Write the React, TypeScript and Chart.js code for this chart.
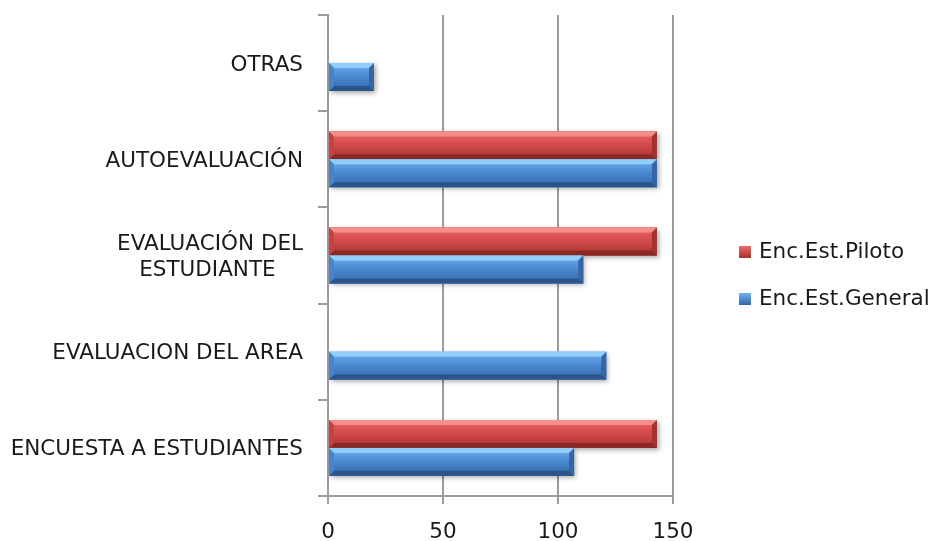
import React, { useEffect, useRef } from "react";
import { Chart, registerables } from "chart.js";

Chart.register(...registerables);

const categories: (string | string[])[] = [
  "OTRAS",
  "AUTOEVALUACIÓN",
  ["EVALUACIÓN DEL", "ESTUDIANTE"],
  "EVALUACION DEL AREA",
  "ENCUESTA A ESTUDIANTES",
];
const seriesNames = ["Enc.Est.Piloto", "Enc.Est.General"];
const pilotoValues = [0, 143, 143, 0, 143];
const generalValues = [20, 143, 111, 121, 107];
const xTickValues = [0, 50, 100, 150];

const FONT = "'DejaVu Sans', sans-serif";
const FONT_SIZE = 21.5;
const TEXT = "#1a1a1a";
const GRID = "#9c9c9c";

const palettes = [
  { base: "#C94543", topBevel: "#F58D8B", g0: "#EE6A68", g1: "#D44C4A", g2: "#A83331", bottomBevel: "#8A2826", leftBevel: "#C24341", rightBevel: "#A53230" },
  { base: "#4A88D0", topBevel: "#92CDFB", g0: "#70B3F2", g1: "#4C8AD2", g2: "#3266A8", bottomBevel: "#2A548A", leftBevel: "#4A84C8", rightBevel: "#3565A6" },
];

const bevelPlugin = {
  id: "bevel",
  beforeDatasetsDraw(chart: any) {
    const ctx = chart.ctx;
    chart.data.datasets.forEach((_: any, di: number) => {
      const meta = chart.getDatasetMeta(di);
      meta.data.forEach((el: any) => {
        const p = el.getProps(["x", "y", "base", "height"], true);
        const l = Math.min(p.x, p.base), r = Math.max(p.x, p.base);
        if (r - l < 1) return;
        ctx.save();
        ctx.shadowColor = "rgba(0,0,0,0.35)";
        ctx.shadowBlur = 5;
        ctx.shadowOffsetX = 2;
        ctx.shadowOffsetY = 2;
        ctx.fillStyle = "#ffffff";
        ctx.fillRect(l, p.y - p.height / 2, r - l, p.height);
        ctx.restore();
      });
    });
  },
  afterDatasetsDraw(chart: any) {
    const ctx = chart.ctx;
    chart.data.datasets.forEach((_: any, di: number) => {
      const pal = palettes[di];
      const meta = chart.getDatasetMeta(di);
      meta.data.forEach((el: any) => {
        const p = el.getProps(["x", "y", "base", "height"], true);
        const l = Math.min(p.x, p.base), r = Math.max(p.x, p.base);
        if (r - l < 1) return;
        const t = p.y - p.height / 2, bt = p.y + p.height / 2;
        const b = Math.min(5, (r - l) / 2);
        ctx.save();
        const g = ctx.createLinearGradient(0, t, 0, bt);
        g.addColorStop(0, pal.g0);
        g.addColorStop(0.45, pal.g1);
        g.addColorStop(1, pal.g2);
        ctx.fillStyle = g;
        ctx.fillRect(l, t, r - l, bt - t);
        const poly = (pts: number[][], c: string) => {
          ctx.beginPath();
          ctx.moveTo(pts[0][0], pts[0][1]);
          for (let i = 1; i < pts.length; i++) ctx.lineTo(pts[i][0], pts[i][1]);
          ctx.closePath();
          ctx.fillStyle = c;
          ctx.fill();
        };
        poly([[l, t], [r, t], [r - b, t + b], [l + b, t + b]], pal.topBevel);
        poly([[l, bt], [r, bt], [r - b, bt - b], [l + b, bt - b]], pal.bottomBevel);
        poly([[l, t], [l + b, t + b], [l + b, bt - b], [l, bt]], pal.leftBevel);
        poly([[r, t], [r - b, t + b], [r - b, bt - b], [r, bt]], pal.rightBevel);
        ctx.restore();
      });
    });
  },
};

const legendPlugin = {
  id: "customLegend",
  afterDraw(chart: any) {
    const ctx = chart.ctx;
    const area = chart.chartArea;
    const cy = (area.top + area.bottom) / 2;
    const ys = [cy - 3.5, cy + 43.5];
    ctx.save();
    ctx.font = `${FONT_SIZE}px ${FONT}`;
    ctx.textBaseline = "middle";
    ctx.textAlign = "left";
    chart.data.datasets.forEach((ds: any, i: number) => {
      const pal = palettes[i];
      const x = area.right + 66;
      const y = ys[i];
      const g = ctx.createLinearGradient(0, y - 6, 0, y + 6);
      g.addColorStop(0, pal.g0);
      g.addColorStop(1, pal.g2);
      ctx.fillStyle = g;
      ctx.fillRect(x, y - 6, 12, 12);
      ctx.fillStyle = TEXT;
      ctx.fillText(ds.label, x + 20, y);
    });
    ctx.restore();
  },
};

const measureCtx = typeof document !== "undefined" ? document.createElement("canvas").getContext("2d") : null;
function centerLines(lines: string[]): string[] {
  if (!measureCtx) return lines;
  measureCtx.font = `${FONT_SIZE}px ${FONT}`;
  const widths = lines.map((s) => measureCtx.measureText(s).width);
  const maxW = Math.max(...widths);
  const sp = measureCtx.measureText("\u00A0").width || 6;
  return lines.map((s, i) => s + "\u00A0".repeat(Math.round((maxW - widths[i]) / 2 / sp)));
}

export default function App() {
  const ref = useRef<HTMLCanvasElement | null>(null);
  useEffect(() => {
    if (!ref.current) return;
    const chart = new Chart(ref.current, {
      type: "bar",
      data: {
        labels: categories as any,
        datasets: [
          { label: seriesNames[0], data: pilotoValues, backgroundColor: palettes[0].base, borderWidth: 0 },
          { label: seriesNames[1], data: generalValues, backgroundColor: palettes[1].base, borderWidth: 0 },
        ],
      },
      options: {
        indexAxis: "y",
        responsive: true,
        maintainAspectRatio: false,
        animation: false,
        datasets: { bar: { categoryPercentage: 0.58, barPercentage: 1 } },
        layout: { padding: { left: 0, right: 259, top: 15, bottom: 0 } },
        plugins: { legend: { display: false }, tooltip: { enabled: false } },
        scales: {
          x: {
            type: "linear",
            min: 0,
            max: 150,
            afterBuildTicks: (scale: any) => {
              scale.ticks = xTickValues.map((v) => ({ value: v }));
            },
            afterFit: (scale: any) => {
              scale.height = 45;
            },
            grid: { color: GRID, lineWidth: 2, drawTicks: true, tickLength: 8, tickColor: GRID },
            border: { display: true, color: GRID, width: 2 },
            ticks: { color: TEXT, font: { family: FONT, size: FONT_SIZE }, padding: 16, maxRotation: 0 },
          },
          y: {
            type: "category",
            afterFit: (scale: any) => {
              scale.width = 328;
              scale.paddingTop = 0;
              scale.paddingBottom = 0;
            },
            grid: { display: true, drawOnChartArea: false, drawTicks: true, tickLength: 10, color: GRID, lineWidth: 2, offset: true },
            border: { display: true, color: GRID, width: 2 },
            ticks: {
              color: TEXT,
              font: { family: FONT, size: FONT_SIZE, lineHeight: 1.18 },
              padding: 15,
              labelOffset: 2,
              autoSkip: false,
              callback: function (this: any, value: any) {
                const lbl = this.getLabelForValue(value);
                const raw = categories[value as number];
                if (Array.isArray(raw)) return centerLines(raw);
                return lbl;
              },
            },
          },
        },
      },
      plugins: [bevelPlugin, legendPlugin],
    });
    return () => chart.destroy();
  }, []);
  return (
    <div style={{ position: "absolute", left: 0, top: 0, width: 932, height: 541, background: "#fff" }}>
      <canvas ref={ref} />
    </div>
  );
}
